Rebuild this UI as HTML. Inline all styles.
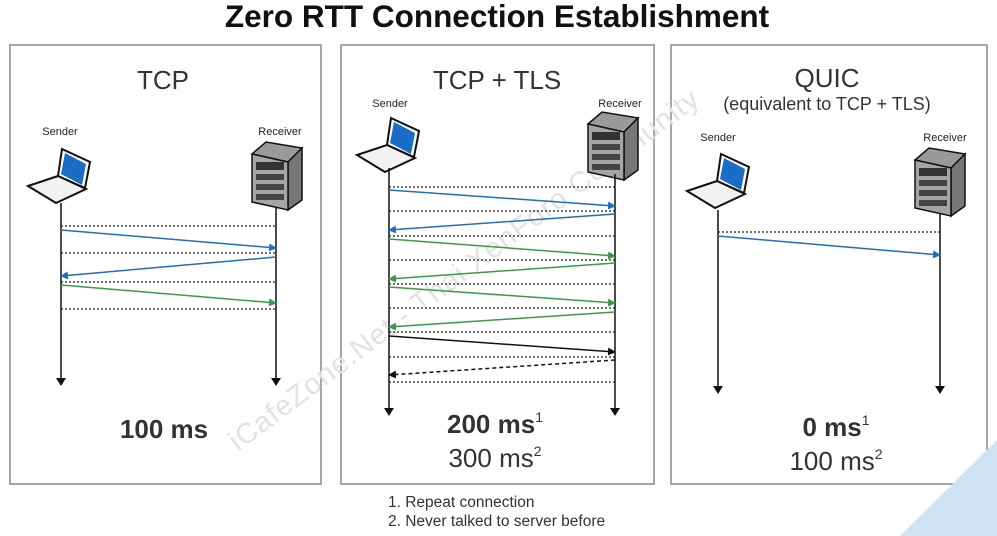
<!DOCTYPE html>
<html><head><meta charset="utf-8"><style>
html,body{margin:0;padding:0;background:#fff;}
svg{display:block;font-family:"Liberation Sans",sans-serif;}
</style></head><body>
<svg width="997" height="536" viewBox="0 0 997 536" xmlns="http://www.w3.org/2000/svg">
<defs>
<marker id="ab" markerWidth="8" markerHeight="8" refX="7" refY="4" orient="auto" markerUnits="userSpaceOnUse"><path d="M0,0 L8,4 L0,8 z" fill="#1f6fc0"/></marker>
<marker id="ag" markerWidth="8" markerHeight="8" refX="7" refY="4" orient="auto" markerUnits="userSpaceOnUse"><path d="M0,0 L8,4 L0,8 z" fill="#3a9a4a"/></marker>
<marker id="ak" markerWidth="8" markerHeight="8" refX="7" refY="4" orient="auto" markerUnits="userSpaceOnUse"><path d="M0,0 L8,4 L0,8 z" fill="#111"/></marker>
<g id="laptop">
<path d="M34,1 L62,14 L57,40 L30,28 Z" fill="#fff" stroke="#111" stroke-width="2"/>
<path d="M37,5 L58,16 L54,37 L33,26 Z" fill="#1a6cc4"/>
<path d="M0,38 L30,28 L58,41 L28,55 Z" fill="#f2f2f2" stroke="#111" stroke-width="2"/>
</g>
<g id="server">
<path d="M0,12 L14,0 L50,6 L36,20 Z" fill="#9a9a9a" stroke="#111" stroke-width="1.5"/>
<path d="M36,20 L50,6 L50,58 L36,68 Z" fill="#777" stroke="#111" stroke-width="1.5"/>
<path d="M0,12 L36,20 L36,68 L0,60 Z" fill="#a5a5a5" stroke="#111" stroke-width="1.5"/>
<rect x="4" y="20" width="28" height="8" fill="#333"/>
<rect x="4" y="32" width="28" height="6" fill="#444"/>
<rect x="4" y="42" width="28" height="6" fill="#444"/>
<rect x="4" y="52" width="28" height="6" fill="#444"/>
</g>
</defs>

<text x="497" y="27" text-anchor="middle" font-size="31.5" font-weight="bold" fill="#111">Zero RTT Connection Establishment</text>

<g fill="none" stroke="#888" stroke-width="1.5">
<rect x="10" y="45" width="311" height="439"/>
<rect x="341" y="45" width="313" height="439"/>
<rect x="671" y="45" width="316" height="439"/>
</g>

<!-- watermark -->
<text x="0" y="0" transform="translate(238,452) rotate(-37)" font-size="29" fill="#e2e2e2" letter-spacing="1">iCafeZone.Net - Thai XenForo Community</text>
<path d="M900,536 L997,440 L997,536 Z" fill="#cfe3f3"/>

<!-- Panel 1 -->
<text x="163" y="89" text-anchor="middle" font-size="26" fill="#333">TCP</text>
<text x="60" y="135" text-anchor="middle" font-size="11" fill="#222">Sender</text>
<text x="280" y="135" text-anchor="middle" font-size="11" fill="#222">Receiver</text>
<use href="#laptop" x="28" y="148"/>
<use href="#server" x="252" y="142"/>
<g stroke="#111" stroke-width="1.5">
<line x1="61" y1="203" x2="61" y2="378"/><line x1="276" y1="208" x2="276" y2="378"/>
</g>
<path d="M56,378 L66,378 L61,386 Z M271,378 L281,378 L276,386 Z" fill="#111"/>
<g stroke="#222" stroke-width="1.2" stroke-dasharray="2,2">
<line x1="61" y1="226" x2="276" y2="226"/><line x1="61" y1="253" x2="276" y2="253"/>
<line x1="61" y1="282" x2="276" y2="282"/><line x1="61" y1="309" x2="276" y2="309"/>
</g>
<line x1="61" y1="230" x2="276" y2="248" stroke="#1f6fc0" stroke-width="1.5" marker-end="url(#ab)"/>
<line x1="276" y1="257" x2="61" y2="276" stroke="#1f6fc0" stroke-width="1.5" marker-end="url(#ab)"/>
<line x1="61" y1="285" x2="276" y2="303" stroke="#3a9a4a" stroke-width="1.5" marker-end="url(#ag)"/>
<text x="164" y="438" text-anchor="middle" font-size="26" font-weight="bold" fill="#333">100 ms</text>

<!-- Panel 2 -->
<text x="497" y="89" text-anchor="middle" font-size="26" fill="#333">TCP + TLS</text>
<text x="390" y="107" text-anchor="middle" font-size="11" fill="#222">Sender</text>
<text x="620" y="107" text-anchor="middle" font-size="11" fill="#222">Receiver</text>
<use href="#laptop" x="357" y="117"/>
<use href="#server" x="588" y="112"/>
<g stroke="#111" stroke-width="1.5">
<line x1="389" y1="168" x2="389" y2="408"/><line x1="615" y1="174" x2="615" y2="408"/>
</g>
<path d="M384,408 L394,408 L389,416 Z M610,408 L620,408 L615,416 Z" fill="#111"/>
<g stroke="#222" stroke-width="1.2" stroke-dasharray="2,2">
<line x1="389" y1="187" x2="615" y2="187"/><line x1="389" y1="211" x2="615" y2="211"/>
<line x1="389" y1="236" x2="615" y2="236"/><line x1="389" y1="260" x2="615" y2="260"/>
<line x1="389" y1="284" x2="615" y2="284"/><line x1="389" y1="308" x2="615" y2="308"/>
<line x1="389" y1="332" x2="615" y2="332"/><line x1="389" y1="357" x2="615" y2="357"/>
<line x1="389" y1="382" x2="615" y2="382"/>
</g>
<line x1="389" y1="190" x2="615" y2="206" stroke="#1f6fc0" stroke-width="1.5" marker-end="url(#ab)"/>
<line x1="615" y1="214" x2="389" y2="230" stroke="#1f6fc0" stroke-width="1.5" marker-end="url(#ab)"/>
<line x1="389" y1="239" x2="615" y2="256" stroke="#3a9a4a" stroke-width="1.5" marker-end="url(#ag)"/>
<line x1="615" y1="263" x2="389" y2="279" stroke="#3a9a4a" stroke-width="1.5" marker-end="url(#ag)"/>
<line x1="389" y1="287" x2="615" y2="303" stroke="#3a9a4a" stroke-width="1.5" marker-end="url(#ag)"/>
<line x1="615" y1="312" x2="389" y2="327" stroke="#3a9a4a" stroke-width="1.5" marker-end="url(#ag)"/>
<line x1="389" y1="336" x2="615" y2="352" stroke="#111" stroke-width="1.5" marker-end="url(#ak)"/>
<line x1="615" y1="360" x2="389" y2="375" stroke="#111" stroke-width="1.5" stroke-dasharray="4,3" marker-end="url(#ak)"/>
<text x="495" y="433" text-anchor="middle" font-size="26" font-weight="bold" fill="#333">200 ms<tspan font-size="14" font-weight="normal" dy="-11">1</tspan></text>
<text x="495" y="467" text-anchor="middle" font-size="26" fill="#333">300 ms<tspan font-size="14" dy="-11">2</tspan></text>

<!-- Panel 3 -->
<text x="827" y="87" text-anchor="middle" font-size="26" fill="#333">QUIC</text>
<text x="827" y="110" text-anchor="middle" font-size="18" fill="#333">(equivalent to TCP + TLS)</text>
<text x="718" y="141" text-anchor="middle" font-size="11" fill="#222">Sender</text>
<text x="945" y="141" text-anchor="middle" font-size="11" fill="#222">Receiver</text>
<use href="#laptop" x="687" y="153"/>
<use href="#server" x="915" y="148"/>
<g stroke="#111" stroke-width="1.5">
<line x1="718" y1="210" x2="718" y2="386"/><line x1="940" y1="214" x2="940" y2="386"/>
</g>
<path d="M713,386 L723,386 L718,394 Z M935,386 L945,386 L940,394 Z" fill="#111"/>
<line x1="718" y1="232" x2="940" y2="232" stroke="#222" stroke-width="1.2" stroke-dasharray="2,2"/>
<line x1="718" y1="236" x2="940" y2="255" stroke="#1f6fc0" stroke-width="1.5" marker-end="url(#ab)"/>
<text x="836" y="436" text-anchor="middle" font-size="26" font-weight="bold" fill="#333">0 ms<tspan font-size="14" font-weight="normal" dy="-11">1</tspan></text>
<text x="836" y="470" text-anchor="middle" font-size="26" fill="#333">100 ms<tspan font-size="14" dy="-11">2</tspan></text>

<!-- footnotes -->
<text x="388" y="507" font-size="15.5" fill="#333">1. Repeat connection</text>
<text x="388" y="526" font-size="15.5" fill="#333">2. Never talked to server before</text>
</svg>
</body></html>
